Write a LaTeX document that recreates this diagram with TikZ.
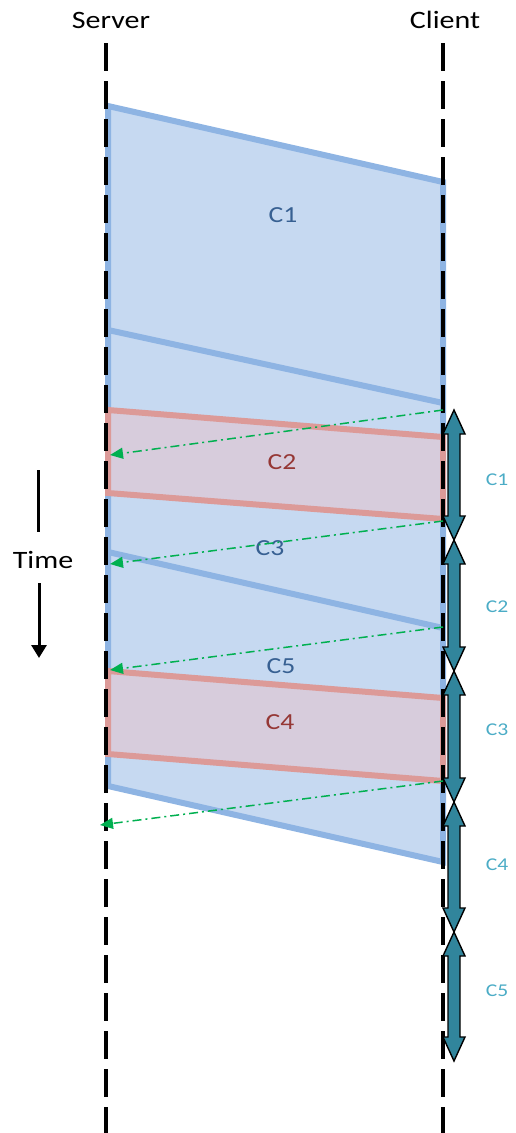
\documentclass[tikz,border=0pt]{standalone}
\usepackage{fontspec}
\setmainfont{Carlito}[FakeStretch=1.2]
\usetikzlibrary{arrows.meta}
\definecolor{bfill}{HTML}{C6D9F1}
\definecolor{bedge}{HTML}{8EB4E3}
\definecolor{rfill}{HTML}{D7CCDC}
\definecolor{redge}{HTML}{DC9A98}
\definecolor{blabel}{HTML}{376092}
\definecolor{rlabel}{HTML}{953735}
\definecolor{garrow}{HTML}{00B050}
\definecolor{teal}{HTML}{31859C}
\definecolor{tlabel}{HTML}{4BACC6}
\newcommand\dblarr[3]{%
  \filldraw[darr] (#1,#2) -- (#1+11,#2+24) -- (#1+6,#2+24) -- (#1+6,#3-24) -- (#1+11,#3-24) -- (#1,#3)
   -- (#1-11,#3-24) -- (#1-6,#3-24) -- (#1-6,#2+24) -- (#1-11,#2+24) -- cycle;}
\tikzset{
  lifeline/.style={line width=4pt, dash pattern=on 28pt off 10pt},
  bluepoly/.style={fill=bfill, draw=bedge, line width=6pt, line join=miter},
  blueline/.style={draw=bedge, line width=6pt},
  redpoly/.style={fill=rfill, draw=redge, line width=6pt, line join=miter},
  ack/.style={draw=garrow, line width=1.5pt, dash pattern=on 9pt off 4pt on 2pt off 4pt, -{Triangle[length=13pt,width=11pt]}},
  darr/.style={fill=teal, draw=black, line width=1.4pt, line join=miter},
  head/.style={font=\fontsize{25}{30}\selectfont, text=black},
  chunk/.style={font=\fontsize{23}{28}\selectfont},
  side/.style={font=\fontsize{18}{22}\selectfont, text=tlabel},
}
\begin{document}
\begin{tikzpicture}[x=1pt,y=-1pt]
\useasboundingbox (0,0) rectangle (515,1133);
% big blue transmission area
\filldraw[bluepoly] (108,106) -- (443,182) -- (443,862) -- (108,786) -- cycle;
\draw[blueline] (108,330) -- (443,403);
\draw[blueline] (108,552) -- (443,628);
% red chunks
\filldraw[redpoly] (108,410) -- (443,437) -- (443,519) -- (108,493) -- cycle;
\filldraw[redpoly] (108,671) -- (443,698) -- (443,781) -- (108,754) -- cycle;
% headers and lifelines
\node[head] (server) at (111,20) {Server};
\node[head] (client) at (445,20) {Client};
\coordinate (stop) at (106,43);
\coordinate (sbot) at (106,1133);
\coordinate (ctop) at (443,43);
\coordinate (cbot) at (443,1133);
\draw[lifeline] (stop) -- (sbot);
\draw[lifeline] (ctop) -- (cbot);
% chunk labels
\node[chunk, text=blabel] (c1) at (283,215) {C1};
\node[chunk, text=rlabel] (c2) at (282,462) {C2};
\node[chunk, text=blabel] (c3) at (270,548) {C3};
\node[chunk, text=blabel] (c5) at (281,666) {C5};
\node[chunk, text=rlabel] (c4) at (280,722) {C4};
% acknowledgements
\coordinate (a1s) at (443,410); \coordinate (a1e) at (110,455);
\coordinate (a2s) at (443,521); \coordinate (a2e) at (110,564);
\coordinate (a3s) at (443,627); \coordinate (a3e) at (110,670);
\coordinate (a4s) at (443,781); \coordinate (a4e) at (100,825);
\draw[ack] (a1s) -- (a1e);
\draw[ack] (a2s) -- (a2e);
\draw[ack] (a3s) -- (a3e);
\draw[ack] (a4s) -- (a4e);
% playback intervals
\dblarr{454}{410}{540}
\dblarr{454}{540}{671}
\dblarr{454}{671}{802}
\dblarr{454}{802}{932}
\dblarr{454}{932}{1061}
\node[side] (p1) at (497,480) {C1};
\node[side] (p2) at (497,607) {C2};
\node[side] (p3) at (497,730) {C3};
\node[side] (p4) at (497,865) {C4};
\node[side] (p5) at (497,991) {C5};
% time axis
\node[head] (time) at (43,560) {Time};
\coordinate (t1) at (38,470); \coordinate (t2) at (38,532);
\coordinate (t3) at (39,583); \coordinate (t4) at (39,658);
\draw[line width=3pt] (t1) -- (t2);
\draw[line width=3pt, -{Triangle[length=13pt,width=15pt]}] (t3) -- (t4);
\end{tikzpicture}
\end{document}
